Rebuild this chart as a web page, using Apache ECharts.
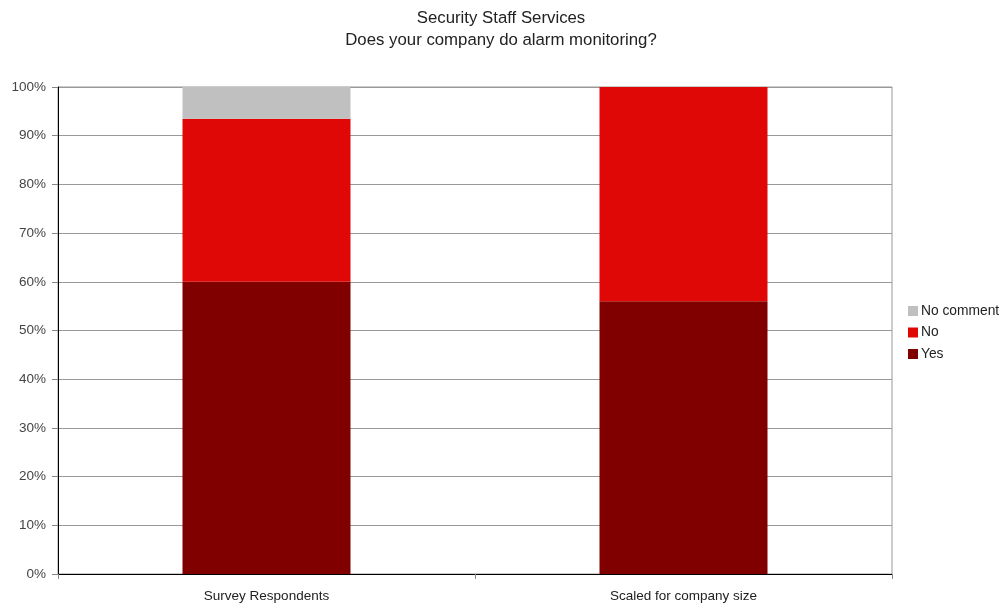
<!DOCTYPE html>
<html>
<head>
<meta charset="utf-8">
<script src="https://cdn.jsdelivr.net/npm/echarts@6/dist/echarts.min.js"></script>
<style>
  html, body { margin: 0; padding: 0; background: #fff; }
  #chart { width: 1003px; height: 604px; }
</style>
</head>
<body>
<div id="chart"></div>
<script>
// Alarm monitoring survey: share of answers per group (percent)
const categories = ['Survey Respondents', 'Scaled for company size'];
const yesValues = [60, 56];
const noValues = [33.5, 44];
const noCommentValues = [6.5, 0];
const yTicks = [0, 10, 20, 30, 40, 50, 60, 70, 80, 90, 100];

const FONT = '"Liberation Sans", Arial, Helvetica, sans-serif';

const chart = echarts.init(document.getElementById('chart'), null, { renderer: 'canvas' });

const barStyle = (name, values, color) => ({
  name: name,
  type: 'bar',
  stack: 'total',
  data: values,
  barWidth: 168,
  itemStyle: { color: color },
  emphasis: { disabled: true }
});

chart.setOption({
  animation: false,
  textStyle: { fontFamily: FONT },
  title: {
    text: 'Security Staff Services\nDoes your company do alarm monitoring?',
    left: 496,
    textAlign: 'center',
    top: 2,
    textStyle: {
      fontFamily: FONT,
      fontSize: 16.8,
      fontWeight: 'normal',
      color: '#222',
      lineHeight: 22
    }
  },
  legend: {
    orient: 'vertical',
    left: 903,
    top: 299,
    itemWidth: 10,
    itemHeight: 10,
    itemGap: 7.5,
    icon: 'rect',
    data: ['No comment', 'No', 'Yes'],
    textStyle: { fontFamily: FONT, fontSize: 13.8, color: '#222', padding: [0, 0, 0, -2] }
  },
  grid: {
    left: 58,
    right: 111,
    top: 87,
    bottom: 30,
    show: true,
    borderColor: '#999',
    borderWidth: 1,
    containLabel: false
  },
  xAxis: {
    type: 'category',
    data: categories,
    axisLine: { lineStyle: { color: '#000', width: 1 } },
    axisTick: { show: true, length: 5, interval: 0, lineStyle: { color: '#888' } },
    axisLabel: { fontFamily: FONT, fontSize: 13.5, color: '#222', margin: 15 }
  },
  yAxis: {
    type: 'value',
    min: yTicks[0],
    max: yTicks[yTicks.length - 1],
    interval: 10,
    axisLine: { show: true, lineStyle: { color: '#000', width: 1 } },
    axisTick: { show: true, length: 6, lineStyle: { color: '#888' } },
    axisLabel: {
      fontFamily: FONT,
      fontSize: 13.5,
      color: '#444',
      margin: 12,
      formatter: v => v + '%'
    },
    splitLine: { show: true, lineStyle: { color: '#999', width: 1 } }
  },
  series: [
    barStyle('Yes', yesValues, '#800000'),
    barStyle('No', noValues, '#df0806'),
    barStyle('No comment', noCommentValues, '#c0c0c0')
  ]
});
</script>
</body>
</html>
